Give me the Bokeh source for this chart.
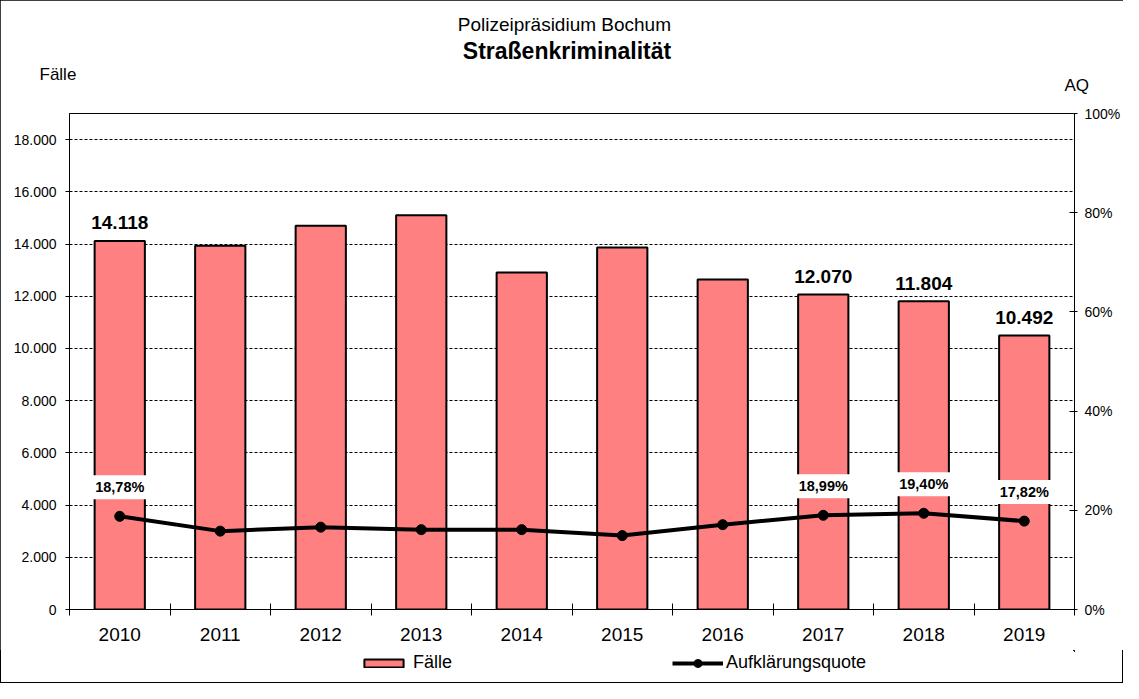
from bokeh.plotting import figure
from bokeh.models import (Range1d, LinearAxis, FixedTicker, Label, Legend,
                          LegendItem, ColumnDataSource)
from bokeh.layouts import column
from bokeh.core.properties import value
from bokeh.embed import file_html
from bokeh.resources import INLINE

# ---------------- data ----------------
years = ["2010", "2011", "2012", "2013", "2014", "2015", "2016", "2017", "2018", "2019"]
faelle = [14118, 13930, 14700, 15100, 12910, 13870, 12640, 12070, 11804, 10492]
aq = [18.78, 15.8, 16.6, 16.1, 16.1, 14.9, 17.1, 18.99, 19.40, 17.82]
labelled_years = ["2010", "2017", "2018", "2019"]
faelle_ticks = [0, 2000, 4000, 6000, 8000, 10000, 12000, 14000, 16000, 18000]
faelle_max = 19000
aq_ticks = [0, 20, 40, 60, 80, 100]

FONT = "Liberation Sans"
BAR_FILL = "#FF8080"

def de_int(v):
    return f"{v:,}".replace(",", ".")

def de_pct(v):
    return f"{v:.2f}%".replace(".", ",")

idx = list(range(len(years)))
src = ColumnDataSource(dict(x=idx, faelle=faelle, aq=aq))

sel = [years.index(y) for y in labelled_years]
lab_src = ColumnDataSource(dict(
    x=sel,
    faelle=[faelle[i] for i in sel],
    aq=[aq[i] for i in sel],
    ftxt=[de_int(faelle[i]) for i in sel],
    atxt=[de_pct(aq[i]) for i in sel],
))

W = 1123
MAIN_H = 650
FOOT_H = 33

# ---------------- main figure ----------------
p = figure(width=W, height=MAIN_H,
           x_range=Range1d(-0.5, len(years) - 0.5),
           y_range=Range1d(0, faelle_max),
           output_backend="svg", toolbar_location=None, title_location=None,
           min_border_left=69, min_border_top=113,
           min_border_bottom=41, min_border_right=10,
           background_fill_color="white", border_fill_color="white")
p.outline_line_color = "black"
p.outline_line_width = 1
p.extra_y_ranges = {"aq": Range1d(0, 100)}

# grid
p.xgrid.visible = False
p.ygrid.ticker = FixedTicker(ticks=faelle_ticks)
p.ygrid.grid_line_color = "black"
p.ygrid.grid_line_dash = "3 2"
p.ygrid.grid_line_width = 1

# x axis
xa = p.xaxis[0]
xa.ticker = FixedTicker(ticks=idx, minor_ticks=[i - 0.5 for i in range(len(years) + 1)])
xa.major_label_overrides = {i: y for i, y in enumerate(years)}
xa.major_tick_line_color = None
xa.major_tick_out = 0
xa.major_tick_in = 0
xa.minor_tick_line_color = "black"
xa.minor_tick_in = 6
xa.minor_tick_out = 6
xa.major_label_standoff = 12
xa.major_label_text_font = FONT
xa.major_label_text_font_size = "19px"
xa.major_label_text_color = "black"
xa.axis_line_color = "black"

# left axis
ya = p.yaxis[0]
ya.ticker = FixedTicker(ticks=faelle_ticks)
ya.major_label_overrides = {t: de_int(t) for t in faelle_ticks}
ya.minor_tick_line_color = None
ya.major_tick_in = 0
ya.major_tick_out = 4
ya.major_tick_line_color = "black"
ya.major_label_standoff = 9
ya.major_label_text_font = FONT
ya.major_label_text_font_size = "14px"
ya.major_label_text_color = "black"
ya.axis_line_color = "black"

# right axis
ra = LinearAxis(y_range_name="aq", ticker=FixedTicker(ticks=aq_ticks))
ra.major_label_overrides = {t: f"{t}%" for t in aq_ticks}
ra.minor_tick_line_color = None
ra.major_tick_in = 5
ra.major_tick_out = 3
ra.major_tick_line_color = "black"
ra.major_label_standoff = 7
ra.major_label_text_font = FONT
ra.major_label_text_font_size = "14px"
ra.major_label_text_color = "black"
ra.axis_line_color = "black"
p.add_layout(ra, "right")

# glyphs
p.vbar(x="x", top="faelle", width=0.5, source=src,
       fill_color=BAR_FILL, line_color="black", line_width=2)
p.line(x="x", y="aq", source=src, y_range_name="aq",
       line_color="black", line_width=4)
p.scatter(x="x", y="aq", source=src, y_range_name="aq", size=10,
          fill_color="black", line_color="black")

p.text(x="x", y="faelle", text="ftxt", source=lab_src,
       text_font=value(FONT), text_font_style="bold", text_font_size="19px",
       text_align="center", text_baseline="middle", y_offset=-18,
       text_color="black")
p.text(x="x", y="aq", text="atxt", source=lab_src, y_range_name="aq",
       text_font=value(FONT), text_font_style="bold", text_font_size="14.5px",
       text_align="center", text_baseline="middle", y_offset=-29,
       text_color="black", background_fill_color="white", padding=4)

# titles / axis titles (in the side panel so they are not clipped)
mid = (len(years) - 1) / 2
p.add_layout(Label(x=mid, y=faelle_max, x_offset=-5, y_offset=89,
                   text="Polizeipräsidium  Bochum", text_font=FONT,
                   text_font_size="19px", text_align="center",
                   text_baseline="middle", text_color="black"), "above")
p.add_layout(Label(x=mid, y=faelle_max, x_offset=-5, y_offset=63,
                   text="Straßenkriminalität", text_font=FONT,
                   text_font_size="23px", text_font_style="bold",
                   text_align="center", text_baseline="middle",
                   text_color="black"), "above")
p.add_layout(Label(x=-0.5, y=faelle_max, x_offset=-30, y_offset=39,
                   text="Fälle", text_font=FONT, text_font_size="17px",
                   text_align="left", text_baseline="middle",
                   text_color="black"), "above")
p.add_layout(Label(x=len(years) - 0.5, y=faelle_max, x_offset=-10, y_offset=28,
                   text="AQ", text_font=FONT, text_font_size="17px",
                   text_align="left", text_baseline="middle",
                   text_color="black"), "above")

# ---------------- legend strip ----------------
f = figure(width=W, height=FOOT_H, x_range=Range1d(-2, -1), y_range=Range1d(-2, -1),
           output_backend="svg", toolbar_location=None, title_location=None,
           x_axis_type=None, y_axis_type=None,
           min_border_left=0, min_border_right=0, min_border_top=0, min_border_bottom=0,
           background_fill_color=None, border_fill_color=None)
f.outline_line_color = None
f.xgrid.visible = False
f.ygrid.visible = False
f.styles = {"background-color": "white",
            "box-shadow": "inset 0 -1px 0 0 black, inset 1px 0 0 0 black, inset -1px 0 0 0 black"}
# legend swatches (same series, outside the strip's view)
lbars = f.vbar(x="x", top="faelle", width=0.5, source=src,
               fill_color=BAR_FILL, line_color="black", line_width=2)
lline = f.line(x="x", y="aq", source=src, line_color="black", line_width=4)
lpts = f.scatter(x="x", y="aq", source=src, size=10,
                 fill_color="black", line_color="black")

leg1 = Legend(items=[LegendItem(label=value("Fälle"), renderers=[lbars])],
              location=(290, 10), orientation="horizontal",
              glyph_width=49, glyph_height=10, label_standoff=5,
              label_text_font=FONT, label_text_font_size="18px",
              label_text_color="black",
              border_line_color=None, background_fill_alpha=0,
              padding=0, margin=0)
leg2 = Legend(items=[LegendItem(label=value("Aufklärungsquote"), renderers=[lline, lpts])],
              location=(603, 10), orientation="horizontal",
              glyph_width=51, glyph_height=20, label_standoff=3,
              label_text_font=FONT, label_text_font_size="18px",
              label_text_color="black",
              border_line_color=None, background_fill_alpha=0,
              padding=0, margin=0)
f.add_layout(leg1)
f.add_layout(leg2)

layout = column(p, f, spacing=0,
                styles={"outline": "1px solid black", "outline-offset": "-1px"})

open("out.html", "w").write(file_html(layout, INLINE))
